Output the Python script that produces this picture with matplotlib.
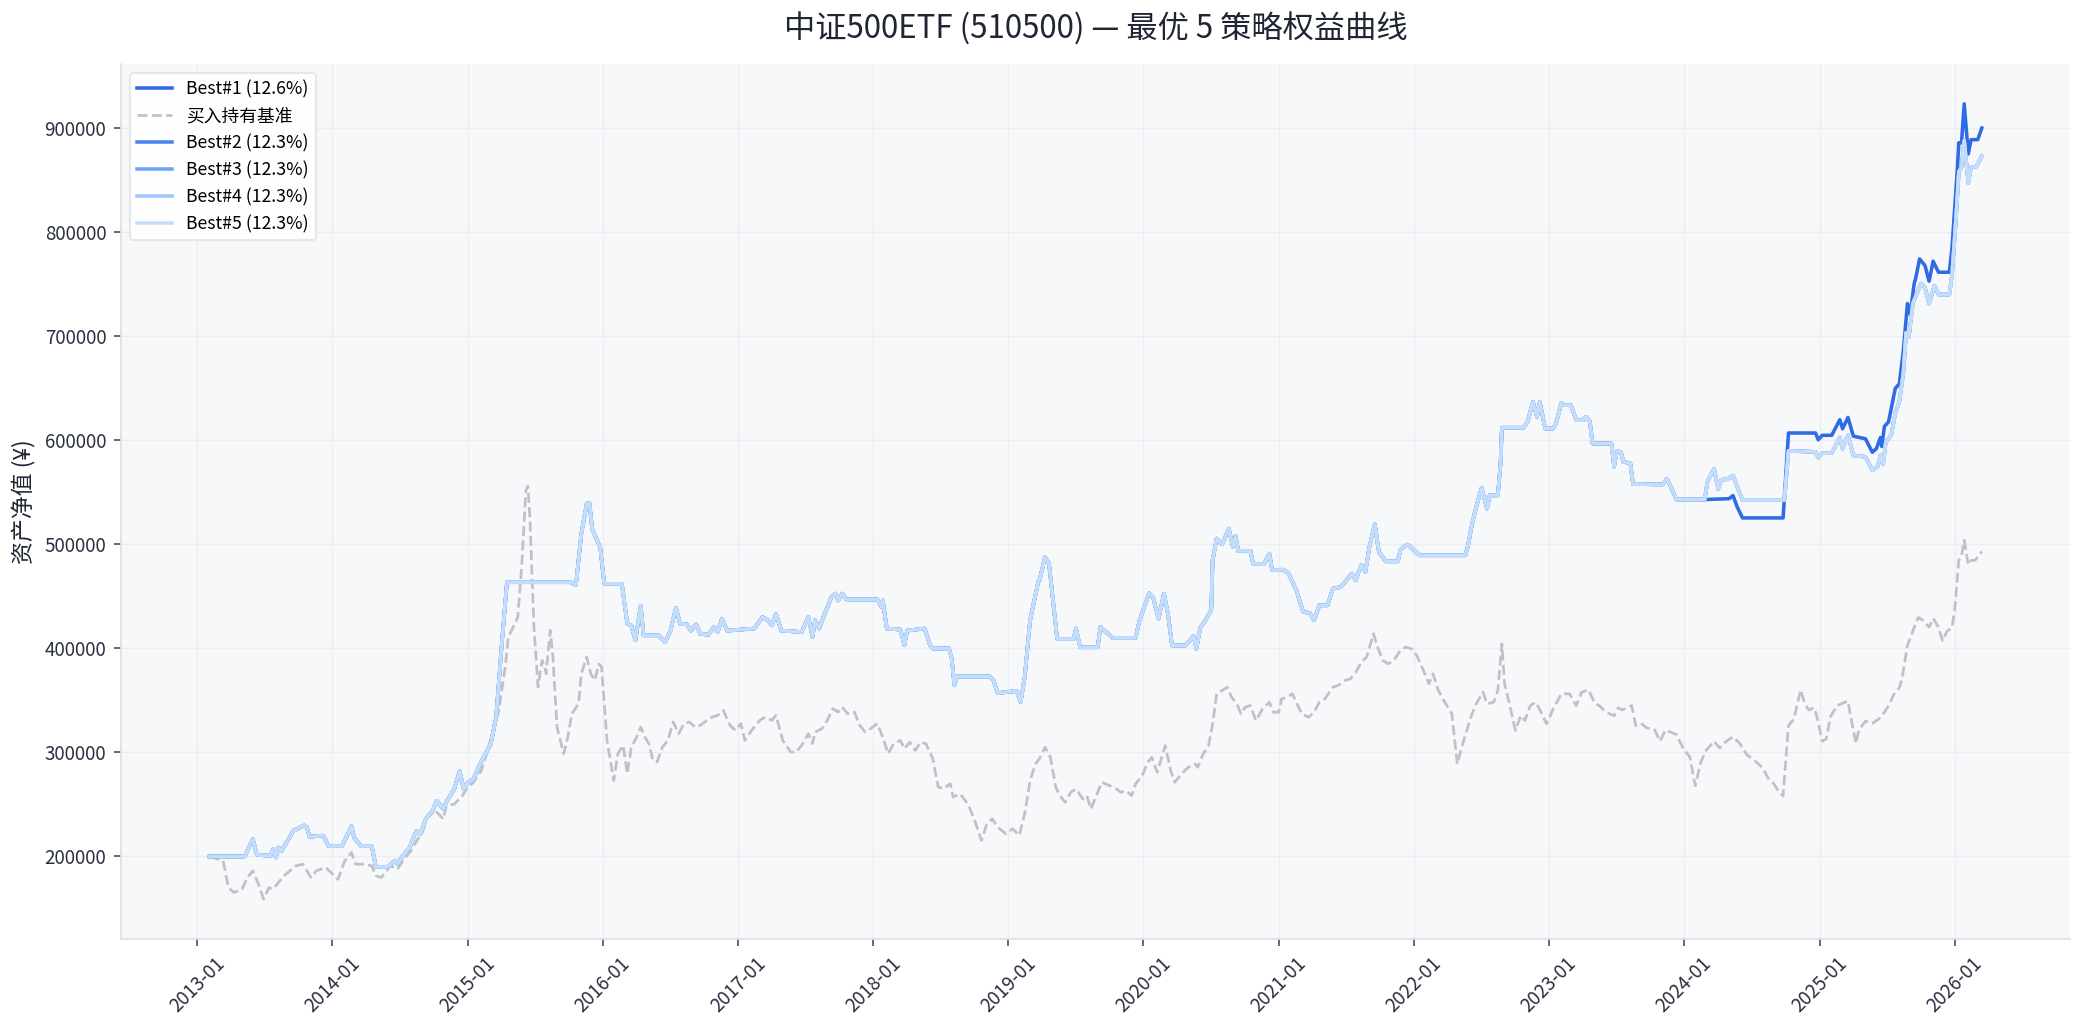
import numpy as np
import pandas as pd
import matplotlib
matplotlib.use("Agg")
import matplotlib.pyplot as plt
import matplotlib.dates as mdates

plt.rcParams['font.family'] = ['Noto Sans CJK SC', 'DejaVu Sans']
plt.rcParams['axes.unicode_minus'] = False

# ---- data (decimal years, asset value) ----
# shared curve of Best#2..#5 (Best#1 identical until early 2024)
strat_t = [
    2013.09, 2013.35, 2013.41, 2013.44, 2013.54, 2013.56, 2013.58, 2013.60, 2013.62, 2013.67,
    2013.71, 2013.79, 2013.81, 2013.83, 2013.93, 2013.97, 2014.07, 2014.14, 2014.16, 2014.21,
    2014.29, 2014.32, 2014.41, 2014.46, 2014.48, 2014.52, 2014.57, 2014.62, 2014.65, 2014.69,
    2014.74, 2014.77, 2014.82, 2014.84, 2014.90, 2014.94, 2014.97, 2015.00, 2015.04, 2015.08,
    2015.11, 2015.17, 2015.21, 2015.25, 2015.29, 2015.76, 2015.80, 2015.84, 2015.88, 2015.90,
    2015.92, 2015.94, 2015.98, 2016.01, 2016.14, 2016.18, 2016.21, 2016.24, 2016.28, 2016.30,
    2016.41, 2016.46, 2016.50, 2016.54, 2016.57, 2016.62, 2016.65, 2016.69, 2016.72, 2016.78,
    2016.82, 2016.85, 2016.88, 2016.92, 2017.12, 2017.18, 2017.22, 2017.25, 2017.28, 2017.32,
    2017.47, 2017.52, 2017.55, 2017.57, 2017.60, 2017.64, 2017.69, 2017.72, 2017.74, 2017.77,
    2017.80, 2018.03, 2018.06, 2018.07, 2018.10, 2018.20, 2018.23, 2018.25, 2018.38, 2018.42,
    2018.44, 2018.56, 2018.58, 2018.60, 2018.62, 2018.86, 2018.89, 2018.92, 2019.06, 2019.09,
    2019.12, 2019.16, 2019.22, 2019.23, 2019.27, 2019.30, 2019.36, 2019.48, 2019.50, 2019.53,
    2019.66, 2019.68, 2019.77, 2019.94, 2019.97, 2020.04, 2020.07, 2020.11, 2020.15, 2020.18,
    2020.21, 2020.31, 2020.37, 2020.39, 2020.42, 2020.44, 2020.50, 2020.51, 2020.54, 2020.58,
    2020.63, 2020.66, 2020.68, 2020.70, 2020.79, 2020.81, 2020.89, 2020.93, 2020.95, 2021.03,
    2021.07, 2021.13, 2021.18, 2021.23, 2021.26, 2021.30, 2021.36, 2021.40, 2021.46, 2021.49,
    2021.52, 2021.54, 2021.57, 2021.59, 2021.61, 2021.64, 2021.67, 2021.71, 2021.74, 2021.79,
    2021.88, 2021.90, 2021.95, 2021.97, 2022.04, 2022.38, 2022.40, 2022.43, 2022.46, 2022.50,
    2022.54, 2022.56, 2022.62, 2022.64, 2022.65, 2022.81, 2022.84, 2022.88, 2022.91, 2022.93,
    2022.97, 2023.03, 2023.05, 2023.09, 2023.11, 2023.16, 2023.20, 2023.25, 2023.27, 2023.30,
    2023.32, 2023.46, 2023.48, 2023.50, 2023.53, 2023.55, 2023.60, 2023.62, 2023.84, 2023.87,
    2023.90, 2023.94, 2024.15,
]
strat_v = [
    200000, 200000, 216700, 201600, 200600, 207000, 199000, 208600, 205000, 215700,
    224700, 229800, 228000, 219000, 220000, 210000, 210000, 229000, 218000, 210000,
    210000, 190000, 190000, 196000, 193000, 200600, 208700, 224700, 221500, 236000,
    244000, 253500, 245500, 252000, 264700, 282000, 264700, 271000, 274000, 285600,
    293600, 308000, 333700, 401000, 463500, 463500, 460600, 510000, 539000, 539700,
    515000, 508700, 497000, 462000, 462000, 423700, 422000, 407700, 441000, 412500,
    412500, 406000, 417000, 439000, 423700, 423000, 417000, 423000, 414000, 413000,
    420500, 415700, 428500, 417000, 419000, 430000, 427000, 422000, 433000, 417000,
    415700, 430000, 411000, 427000, 419000, 433000, 449000, 452600, 446000, 452600,
    447000, 447000, 440000, 446000, 419000, 418000, 403000, 417000, 419000, 403000,
    399700, 400000, 390000, 364400, 373000, 373000, 369000, 357000, 359000, 348400,
    372400, 427000, 464000, 465400, 487800, 481400, 409000, 409000, 419000, 401000,
    401000, 420500, 410000, 410000, 426900, 453000, 449000, 428500, 452500, 433000,
    402800, 402800, 411800, 399600, 420400, 423600, 436500, 484600, 505500, 500000,
    515000, 497400, 507700, 493600, 493600, 481400, 480800, 491000, 475000, 475600,
    472400, 455700, 434900, 434000, 427000, 441300, 441300, 457300, 459000, 463700,
    468600, 471800, 465400, 473400, 479800, 473400, 497400, 519200, 492600, 483600,
    483600, 494900, 499700, 498000, 489400, 489400, 499000, 520000, 536000, 554000,
    534300, 547000, 547000, 577600, 612000, 612000, 617600, 636900, 622400, 636900,
    611200, 611200, 616000, 635900, 633700, 633700, 619200, 619200, 622400, 618600,
    596800, 596800, 574600, 589700, 588600, 579200, 577800, 557800, 557500, 563000,
    555200, 543000, 543000,
]

# Best#2..#5 after early 2024
rest_tail_t = [
    2024.17, 2024.20, 2024.22, 2024.25, 2024.27, 2024.32, 2024.36, 2024.39, 2024.43, 2024.74,
    2024.77, 2024.97, 2024.99, 2025.02, 2025.09, 2025.15, 2025.17, 2025.21, 2025.25, 2025.34,
    2025.39, 2025.43, 2025.45, 2025.47, 2025.49, 2025.53, 2025.56, 2025.59, 2025.62, 2025.64,
    2025.66, 2025.69, 2025.71, 2025.75, 2025.78, 2025.81, 2025.85, 2025.88, 2025.96, 2025.98,
    2026.01, 2026.03, 2026.05, 2026.07, 2026.10, 2026.12, 2026.16, 2026.20,
]
rest_tail_v = [
    559700, 568000, 572500, 553000, 561800, 562700, 566000, 555400, 542500, 542500,
    589700, 588800, 583300, 587600, 587600, 602600, 591800, 604700, 585400, 584000,
    571200, 574700, 585400, 576800, 598300, 604700, 626000, 636900, 664800, 703400,
    699000, 731300, 737800, 750600, 746400, 731300, 748500, 740000, 740000, 759200,
    815000, 858000, 862200, 888000, 847200, 862200, 863000, 873000,
]

# Best#1 after early 2024
best1_tail_t = [
    2024.33, 2024.36, 2024.39, 2024.43, 2024.73, 2024.77, 2024.97, 2024.99, 2025.02, 2025.09,
    2025.15, 2025.17, 2025.21, 2025.25, 2025.34, 2025.39, 2025.42, 2025.45, 2025.46, 2025.48,
    2025.51, 2025.56, 2025.59, 2025.62, 2025.65, 2025.67, 2025.70, 2025.71, 2025.74, 2025.78,
    2025.81, 2025.84, 2025.88, 2025.96, 2025.98, 2026.02, 2026.03, 2026.05, 2026.07, 2026.10,
    2026.12, 2026.17, 2026.20,
]
best1_tail_v = [
    543800, 546800, 536000, 525300, 525300, 606900, 606900, 600400, 604700, 604700,
    619700, 611000, 621900, 603900, 601300, 588400, 591800, 602600, 594000, 613300,
    617600, 649800, 654100, 686300, 731300, 720600, 750600, 755000, 774200, 767800,
    752800, 772000, 761400, 761400, 785000, 862200, 885800, 885800, 923200, 875000,
    888800, 888800, 900000,
]

# buy & hold benchmark
bench_t = [
    2013.09, 2013.19, 2013.23, 2013.27, 2013.33, 2013.37, 2013.41, 2013.45, 2013.49, 2013.53,
    2013.56, 2013.64, 2013.73, 2013.78, 2013.84, 2013.88, 2013.95, 2014.00, 2014.04, 2014.09,
    2014.14, 2014.17, 2014.24, 2014.29, 2014.32, 2014.36, 2014.43, 2014.48, 2014.52, 2014.58,
    2014.63, 2014.66, 2014.70, 2014.76, 2014.82, 2014.84, 2014.90, 2014.96, 2014.99, 2015.04,
    2015.10, 2015.14, 2015.18, 2015.23, 2015.28, 2015.30, 2015.37, 2015.40, 2015.43, 2015.445,
    2015.46, 2015.49, 2015.52, 2015.55, 2015.57, 2015.58, 2015.61, 2015.63, 2015.66, 2015.71,
    2015.74, 2015.77, 2015.82, 2015.84, 2015.88, 2015.91, 2015.94, 2015.97, 2015.99, 2016.03,
    2016.08, 2016.11, 2016.15, 2016.18, 2016.21, 2016.25, 2016.28, 2016.31, 2016.34, 2016.37,
    2016.40, 2016.44, 2016.48, 2016.52, 2016.56, 2016.60, 2016.64, 2016.68, 2016.72, 2016.77,
    2016.81, 2016.85, 2016.89, 2016.94, 2016.98, 2017.02, 2017.05, 2017.10, 2017.16, 2017.20,
    2017.25, 2017.28, 2017.33, 2017.39, 2017.43, 2017.47, 2017.52, 2017.55, 2017.57, 2017.62,
    2017.66, 2017.70, 2017.74, 2017.77, 2017.81, 2017.86, 2017.90, 2017.94, 2017.98, 2018.03,
    2018.07, 2018.11, 2018.15, 2018.20, 2018.23, 2018.27, 2018.31, 2018.35, 2018.39, 2018.44,
    2018.48, 2018.52, 2018.57, 2018.59, 2018.64, 2018.68, 2018.71, 2018.75, 2018.80, 2018.84,
    2018.88, 2018.92, 2018.98, 2019.03, 2019.08, 2019.12, 2019.16, 2019.20, 2019.23, 2019.27,
    2019.31, 2019.35, 2019.38, 2019.42, 2019.46, 2019.50, 2019.55, 2019.58, 2019.61, 2019.65,
    2019.69, 2019.75, 2019.80, 2019.83, 2019.87, 2019.91, 2019.94, 2019.99, 2020.03, 2020.06,
    2020.10, 2020.16, 2020.20, 2020.23, 2020.28, 2020.33, 2020.38, 2020.40, 2020.44, 2020.48,
    2020.51, 2020.54, 2020.58, 2020.62, 2020.65, 2020.69, 2020.72, 2020.75, 2020.79, 2020.83,
    2020.88, 2020.93, 2020.96, 2021.00, 2021.02, 2021.06, 2021.10, 2021.14, 2021.17, 2021.22,
    2021.26, 2021.30, 2021.34, 2021.40, 2021.44, 2021.49, 2021.53, 2021.57, 2021.61, 2021.65,
    2021.70, 2021.73, 2021.77, 2021.81, 2021.85, 2021.90, 2021.94, 2021.98, 2022.02, 2022.07,
    2022.11, 2022.14, 2022.18, 2022.22, 2022.28, 2022.32, 2022.36, 2022.42, 2022.46, 2022.51,
    2022.54, 2022.59, 2022.62, 2022.65, 2022.67, 2022.70, 2022.75, 2022.79, 2022.82, 2022.86,
    2022.90, 2022.94, 2022.98, 2023.03, 2023.09, 2023.15, 2023.20, 2023.24, 2023.29, 2023.34,
    2023.37, 2023.42, 2023.48, 2023.51, 2023.54, 2023.61, 2023.64, 2023.68, 2023.72, 2023.78,
    2023.82, 2023.86, 2023.90, 2023.94, 2023.99, 2024.04, 2024.08, 2024.12, 2024.16, 2024.22,
    2024.26, 2024.31, 2024.36, 2024.41, 2024.46, 2024.52, 2024.58, 2024.62, 2024.66, 2024.70,
    2024.73, 2024.75, 2024.77, 2024.81, 2024.86, 2024.89, 2024.92, 2024.96, 2024.98, 2025.02,
    2025.05, 2025.08, 2025.13, 2025.17, 2025.21, 2025.23, 2025.27, 2025.29, 2025.34, 2025.39,
    2025.44, 2025.48, 2025.51, 2025.55, 2025.59, 2025.61, 2025.65, 2025.67, 2025.70, 2025.73,
    2025.77, 2025.81, 2025.84, 2025.88, 2025.91, 2025.94, 2025.98, 2026.00, 2026.03, 2026.05,
    2026.07, 2026.10, 2026.12, 2026.15, 2026.20,
]
bench_v = [
    200000, 195800, 170000, 165400, 168600, 179800, 186200, 174000, 159000, 170000,
    168600, 181400, 191000, 192600, 179800, 186200, 189400, 183000, 178000, 195800,
    203800, 192600, 192600, 191000, 181400, 179800, 191000, 187800, 195800, 205400,
    216700, 221500, 237500, 244000, 235900, 248700, 250300, 258300, 264700, 271000,
    282400, 298400, 317600, 340000, 385000, 410600, 429800, 481000, 551600, 556000,
    525000, 420000, 362800, 388500, 382000, 375600, 417300, 391700, 324400, 298700,
    314700, 337000, 346800, 375600, 391700, 375600, 369200, 385000, 382000, 311500,
    273000, 298700, 306700, 279500, 305000, 314700, 324400, 314700, 308300, 292300,
    290700, 305000, 311500, 329200, 318000, 327600, 329200, 324400, 326000, 330800,
    334000, 335600, 340400, 326000, 321200, 327600, 311500, 321200, 330800, 334000,
    330800, 335600, 311500, 300300, 300300, 306700, 318000, 308300, 319600, 322800,
    330800, 342000, 338800, 343600, 337200, 338800, 326000, 319600, 322800, 327600,
    314700, 298700, 308300, 311500, 303500, 309900, 301900, 309900, 308300, 294000,
    266700, 265000, 269900, 257000, 260300, 253800, 247400, 234600, 215400, 231400,
    236200, 228200, 221800, 226600, 220200, 241000, 273000, 289000, 294000, 305000,
    295300, 266400, 258400, 252000, 261600, 264800, 255200, 258400, 245600, 258400,
    271300, 268000, 264800, 261600, 263200, 258400, 269700, 277700, 290500, 295300,
    280900, 306500, 282500, 271300, 279300, 285700, 288900, 285700, 298500, 306500,
    327400, 356300, 359500, 362700, 353000, 346600, 337000, 343400, 345000, 330600,
    341800, 348300, 338600, 338600, 351500, 353000, 356300, 345000, 337000, 333800,
    338600, 348300, 351500, 362700, 364300, 369100, 370700, 377100, 386700, 391600,
    414000, 401200, 388400, 385100, 388400, 398000, 401200, 399600, 393200, 378700,
    365900, 375500, 359500, 349900, 337000, 288900, 308100, 333800, 346600, 357900,
    346600, 348300, 359500, 404400, 365900, 349900, 321000, 335400, 330600, 345000,
    348300, 338600, 327400, 341800, 356300, 356300, 345000, 357900, 360100, 346600,
    345000, 338600, 335200, 342900, 340800, 345000, 325800, 327900, 323600, 321500,
    310700, 321500, 319300, 317200, 304300, 295700, 268000, 290000, 302000, 310700,
    304300, 310700, 315000, 308600, 297900, 292000, 285000, 275000, 270000, 262000,
    258000, 292000, 325800, 332000, 360000, 347000, 340800, 342900, 334300, 310700,
    312900, 334300, 345000, 347200, 349400, 334300, 308600, 321500, 330000, 327900,
    332200, 338600, 345000, 355800, 362200, 370800, 403000, 409400, 420200, 429600,
    426600, 420200, 428800, 420200, 407300, 415900, 420200, 437300, 484500, 488800,
    503900, 480300, 484500, 484500, 493100,
]

labels = ['Best#1 (12.6%)', 'Best#2 (12.3%)', 'Best#3 (12.3%)', 'Best#4 (12.3%)', 'Best#5 (12.3%)']
colors = ['#2f6be5', '#4a86ef', '#6ca7f5', '#9dc6f9', '#c4ddfb']
bench_label = '买入持有基准'


def to_dates(years):
    years = np.asarray(years, dtype=float)
    return pd.Timestamp('2013-01-01') + pd.to_timedelta((years - 2013) * 365.25, unit='D')


best1_t = strat_t + best1_tail_t
best1_v = strat_v + best1_tail_v
rest_t = strat_t + rest_tail_t
rest_v = strat_v + rest_tail_v

fig = plt.figure(figsize=(2085 / 150, 1034 / 150), dpi=150)
ax = fig.add_axes([0.058, 0.092, 0.935, 0.846])
ax.set_facecolor('#f7f8fa')

ax.plot(to_dates(best1_t), best1_v, color=colors[0], lw=1.7, label=labels[0])
ax.plot(to_dates(bench_t), bench_v, color='#bfc1c7', lw=1.3, ls='--', label=bench_label)
for lab, col in zip(labels[1:], colors[1:]):
    ax.plot(to_dates(rest_t), rest_v, color=col, lw=1.7, label=lab)

ax.xaxis.set_major_locator(mdates.YearLocator())
ax.xaxis.set_major_formatter(mdates.DateFormatter('%Y-%m'))
plt.setp(ax.get_xticklabels(), rotation=45)

ax.grid(True, color='#e9ebef', lw=0.6, alpha=0.8)
ax.set_axisbelow(True)
for s in ['top', 'right']:
    ax.spines[s].set_visible(False)
for s in ['left', 'bottom']:
    ax.spines[s].set_color('#dcdfe4')
ax.tick_params(colors='#2b3040', labelsize=9)
ax.tick_params(axis='both', color='#4a4f5c')

ax.set_title('中证500ETF (510500) — 最优 5 策略权益曲线', fontsize=15, color='#1f2533', pad=12)
ax.set_ylabel('资产净值 (¥)', fontsize=11, color='#1f2533')

leg = ax.legend(loc='upper left', fontsize=8.5, framealpha=0.9, edgecolor='#e3e5ea')

fig.savefig('out.png', dpi=150)
